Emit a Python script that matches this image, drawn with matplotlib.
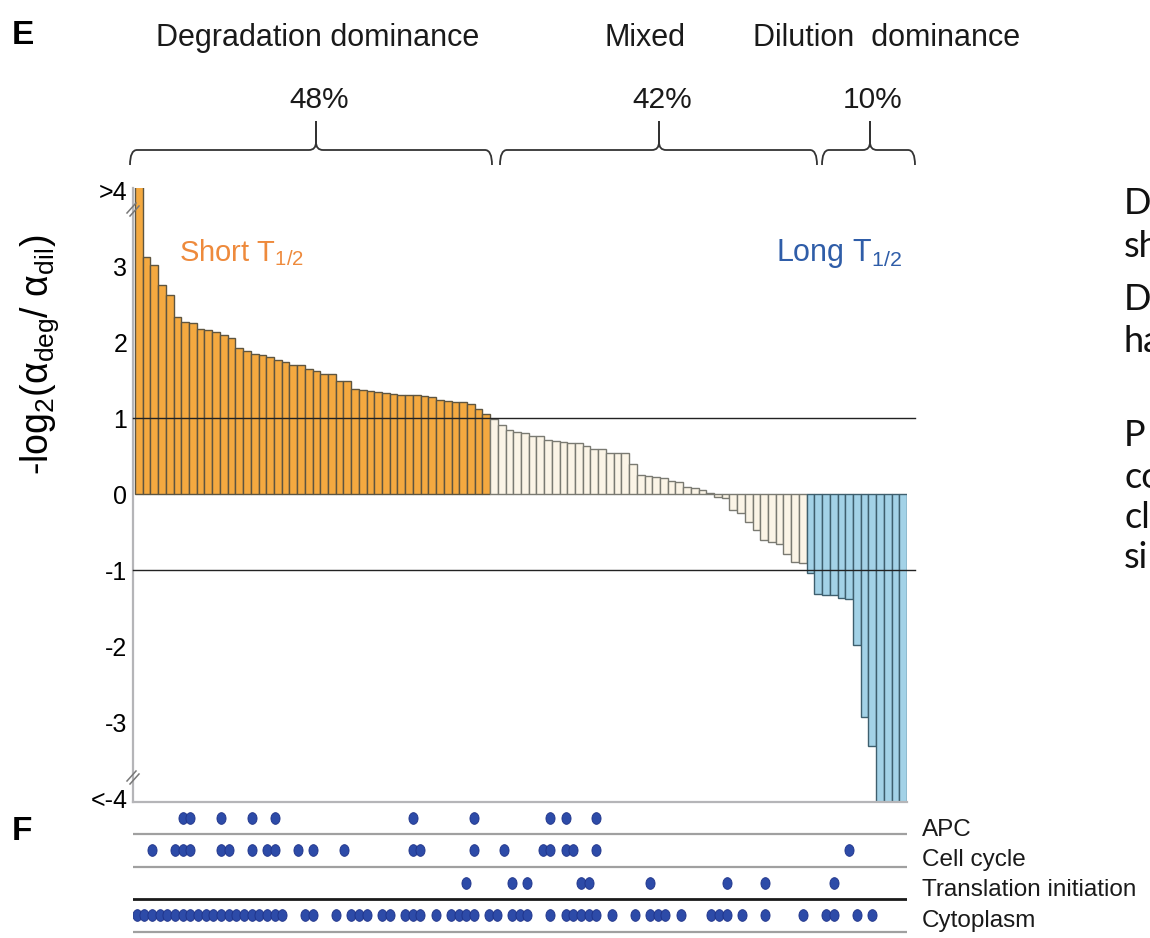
import matplotlib
matplotlib.use('Agg')
import matplotlib.pyplot as plt
import numpy as np
from matplotlib.path import Path
import matplotlib.patches as mpatches

plt.rcParams['font.family'] = ['Liberation Sans', 'DejaVu Sans']
plt.rcParams['mathtext.fontset'] = 'custom'
plt.rcParams['mathtext.rm'] = 'Liberation Sans'
plt.rcParams['mathtext.it'] = 'Liberation Sans:italic'
plt.rcParams['mathtext.bf'] = 'Liberation Sans:bold'

# ---------------- data ----------------
# -log2(alpha_deg/alpha_dil) per protein, sorted; values beyond +/-4 are off-scale
degradation_values = [4.6, 3.12, 3.02, 2.75, 2.62, 2.33, 2.27, 2.25, 2.17, 2.16,
                      2.14, 2.09, 2.05, 1.93, 1.89, 1.85, 1.83, 1.80, 1.77, 1.74,
                      1.70, 1.70, 1.65, 1.62, 1.58, 1.58, 1.49, 1.49, 1.39, 1.37,
                      1.36, 1.34, 1.33, 1.32, 1.31, 1.30, 1.30, 1.29, 1.28, 1.24,
                      1.23, 1.22, 1.21, 1.19, 1.12, 1.05]
mixed_values = [0.99, 0.91, 0.85, 0.82, 0.80, 0.77, 0.77, 0.72, 0.70, 0.69,
                0.68, 0.67, 0.64, 0.60, 0.59, 0.54, 0.54, 0.54, 0.40, 0.25,
                0.24, 0.23, 0.21, 0.18, 0.16, 0.10, 0.08, 0.05, 0.01, -0.03,
                -0.05, -0.21, -0.25, -0.36, -0.47, -0.60, -0.63, -0.65, -0.78, -0.89,
                -0.91]
dilution_values = [-1.03, -1.31, -1.32, -1.33, -1.36, -1.38, -1.99, -2.93, -3.31,
                   -5.0, -5.0, -5.0, -5.0]

ytick_values = [4, 3, 2, 1, 0, -1, -2, -3, -4]
ytick_labels = ['>4', '3', '2', '1', '0', '-1', '-2', '-3', '<-4']
threshold_values = [1, -1]

group_titles = ['Degradation dominance', 'Mixed', 'Dilution  dominance']
group_percents = ['48%', '42%', '10%']

annotation_rows = ['APC', 'Cell cycle', 'Translation initiation', 'Cytoplasm']
apc_idx = [6, 7, 11, 15, 18, 36, 44, 54, 56, 60]
cellcycle_idx = [2, 5, 6, 7, 11, 12, 15, 17, 18, 21, 23, 27, 36, 37, 44, 48,
                 53, 54, 56, 57, 60, 93]
translation_idx = [43, 49, 51, 58, 59, 67, 77, 82, 91]
cytoplasm_idx = [0, 1, 2, 3, 4, 5, 6, 7, 8, 9, 10, 11, 12, 13, 14, 15, 16, 17, 18, 19,
                 22, 23, 26, 28, 29, 30, 32, 33, 35, 36, 37, 39, 41, 42, 43, 44, 46, 47,
                 49, 50, 51, 54, 56, 57, 58, 59, 60, 62, 65, 67, 68, 69, 71, 75, 76, 77,
                 79, 82, 87, 90, 91, 94, 96]
annotation_idx = [apc_idx, cellcycle_idx, translation_idx, cytoplasm_idx]

side_text = ['D', 'sh', 'D', 'ha', 'P', 'co', 'cl', 'si']

# ---------------- figure ----------------
W, H = 1150, 938
fig = plt.figure(figsize=(W / 100, H / 100), dpi=100)


def fx(px):
    return px / W


def fy(py):
    return 1 - py / H


# ---- bar panel ----
ax = fig.add_axes([fx(133), fy(802), fx(907) - fx(133), fy(188) - fy(802)])
values = degradation_values + mixed_values + dilution_values
n = len(values)
xs = np.arange(n)
fill = (['#F4A940'] * len(degradation_values) + ['#FBF4E6'] * len(mixed_values)
        + ['#A3D2E7'] * len(dilution_values))
edge = (['#5E5540'] * len(degradation_values) + ['#7A7A72'] * len(mixed_values)
        + ['#3E5F6E'] * len(dilution_values))
ax.bar(xs, values, width=1.0, color=fill, edgecolor=edge, linewidth=1.0, zorder=2)
ax.set_xlim(-0.76, n - 0.5)
ax.set_ylim(-4.05, 4.03)
for t in threshold_values:
    ax.plot([-0.76, n + 0.6], [t, t], color='#222222', lw=1.0, zorder=3, clip_on=False)
ax.set_yticks(ytick_values)
ax.set_yticklabels(ytick_labels)
ax.tick_params(axis='y', length=0, pad=4, labelsize=18)
ax.set_xticks([])
for s in ['top', 'right']:
    ax.spines[s].set_visible(False)
for s in ['left', 'bottom']:
    ax.spines[s].set_color('#B5B5B8')
    ax.spines[s].set_linewidth(1.6)
ax.patch.set_visible(False)

ax.text(0.060, 0.881, r'Short T$_{\mathregular{1/2}}$', transform=ax.transAxes,
        color='#EE8A3C', fontsize=21, ha='left', va='baseline', zorder=5)
ax.text(0.9935, 0.881, r'Long T$_{\mathregular{1/2}}$', transform=ax.transAxes,
        color='#2F5DA8', fontsize=22, ha='right', va='baseline', zorder=5)

# ---- annotation dot panel ----
ax2 = fig.add_axes([fx(133), fy(938), fx(907) - fx(133), fy(803) - fy(938)])
ax2.set_xlim(-0.5, 100.55)
ax2.set_ylim(3.70, -0.463)
ax2.axis('off')
tt = np.linspace(0, 2 * np.pi, 64)
ell = Path(np.column_stack([0.78 * np.cos(tt), np.sin(tt)]))
for r, idx in enumerate(annotation_idx):
    ax2.plot(idx, [r] * len(idx), linestyle='none', marker=ell, markersize=8.4,
             markerfacecolor='#2D4BA8', markeredgecolor='#1E3288', markeredgewidth=0.6,
             zorder=3)
    ax2.axhline(r + 0.5, color='#1a1a1a' if r == 2 else '#A0A0A0',
                lw=2.0 if r == 2 else 1.6, zorder=2)

# ---- overlay for annotations ----
ov = fig.add_axes([0, 0, 1, 1])
ov.set_xlim(0, W)
ov.set_ylim(H, 0)
ov.axis('off')
ov.patch.set_visible(False)

ov.text(12, 35, 'E', fontsize=24, fontweight='bold', ha='left', va='center')
ov.text(12, 832, 'F', fontsize=24, fontweight='bold', ha='left', va='center')

title_x = [318, 645, 887]
for tx, s in zip(title_x, group_titles):
    ov.text(tx, 38, s, fontsize=22, ha='center', va='center', color='#1a1a1a')

brace_specs = [(130, 492, 316), (500, 817, 659), (822, 915, 870)]
for (x0, x1, xm), p in zip(brace_specs, group_percents):
    yh, ypk, yend, r = 150, 121, 165, 7
    verts = [(x0, yend), (x0, yh), (x0 + r, yh), (xm - r, yh), (xm, yh), (xm, yh - 8),
             (xm, ypk), (xm, yh - 8), (xm, yh), (xm + r, yh), (x1 - r, yh), (x1, yh),
             (x1, yend)]
    codes = [Path.MOVETO, Path.CURVE3, Path.CURVE3, Path.LINETO, Path.CURVE3, Path.CURVE3,
             Path.LINETO, Path.LINETO, Path.CURVE3, Path.CURVE3, Path.LINETO, Path.CURVE3,
             Path.CURVE3]
    ov.add_patch(mpatches.PathPatch(Path(verts, codes), fill=False, edgecolor='#333333',
                                    lw=1.3))
    ov.text(xm + 3, 100, p, fontsize=21.5, ha='center', va='center', color='#1a1a1a')

# axis break marks
for yb in [208, 776]:
    for dx in [0, 3]:
        ov.plot([127 + dx, 136 + dx], [yb + 5 + dx, yb - 5 + dx], color='#777777', lw=1.1)

ov.text(40, 355, r'-log$_2$(α$_{\mathregular{deg}}$/ α$_{\mathregular{dil}}$)', rotation=90,
        fontsize=27, ha='center', va='center')

label_y = [830, 860, 890, 921]
for ly, s in zip(label_y, annotation_rows):
    ov.text(922, ly, s, fontsize=17.5, ha='left', va='center', color='#1a1a1a')

side_y = [214, 257, 310, 352, 446, 488, 528, 568]
for sy, s in zip(side_y, side_text):
    ov.text(1124, sy, s, fontsize=26, ha='left', va='baseline', color='#111111',
            family=['Lato', 'DejaVu Sans'])

fig.savefig('out.png', dpi=100)
